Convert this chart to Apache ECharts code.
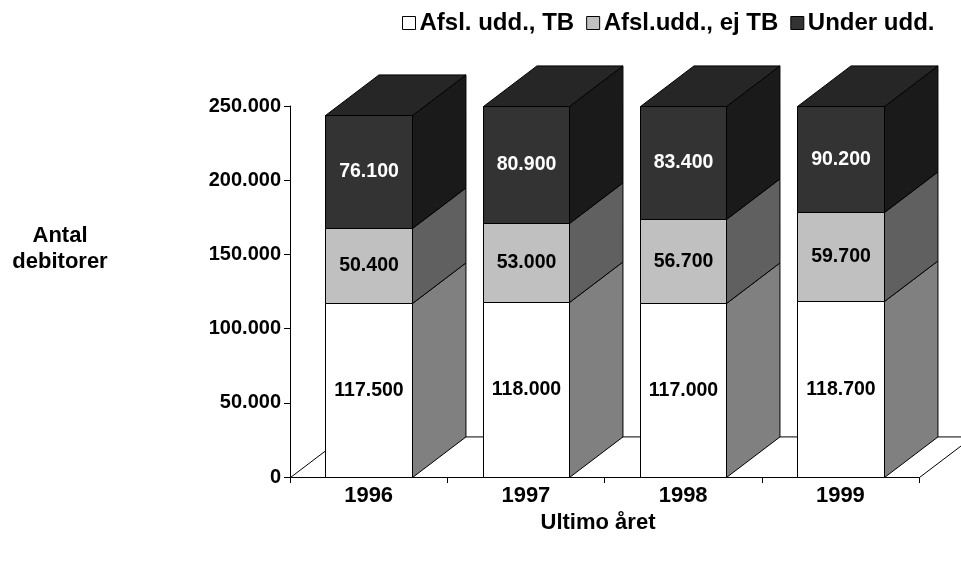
<!DOCTYPE html>
<html><head><meta charset="utf-8">
<script src="https://cdn.jsdelivr.net/npm/echarts@6/dist/echarts.min.js"></script>
<style>html,body{margin:0;padding:0;background:#fff}#c{width:961px;height:563px}</style>
</head><body><div id="c"></div>
<script>
// ---- data ----
const categories = ['1996', '1997', '1998', '1999'];
const seriesNames = ['Afsl. udd., TB', 'Afsl.udd., ej TB', 'Under udd.'];
const tbValues = [117500, 118000, 117000, 118700];
const ejTbValues = [50400, 53000, 56700, 59700];
const underValues = [76100, 80900, 83400, 90200];
const yTicks = [0, 50000, 100000, 150000, 200000, 250000];
const yTickLabels = ['0', '50.000', '100.000', '150.000', '200.000', '250.000'];
const yAxisTitle = 'Antal\ndebitorer';
const xAxisTitle = 'Ultimo året';

// ---- styling ----
const FONT = '"Liberation Sans", Arial, Helvetica, sans-serif';
const FRONT = ['#ffffff', '#c0c0c0', '#333333'];
const SIDE = ['#808080', '#606060', '#1a1a1a'];
const TOP = '#262626';
const LABEL_COLOR = ['#000', '#000', '#fff'];
const BAR_RATIO = 0.55, DEPTH_X = 0.34, DEPTH_Y = 0.258;
const Y_MIN = yTicks[0], Y_MAX = yTicks[yTicks.length - 1], Y_STEP = yTicks[1] - yTicks[0];

const allValues = [tbValues, ejTbValues, underValues];
function fmt(v) { return String(v).replace(/\B(?=(\d{3})+(?!\d))/g, '.'); }

function buildData(k) {
  return categories.map((c, i) => {
    let base = 0;
    for (let j = 0; j < k; j++) base += allValues[j][i];
    return [i, base, base + allValues[k][i], allValues[k][i]];
  });
}

function makeRender(k) {
  const isTop = k === allValues.length - 1;
  return function (params, api) {
    const i = api.value(0);
    const b = Math.min(api.value(1), Y_MAX);
    const t = Math.min(api.value(2), Y_MAX);
    const val = api.value(3);
    const catW = api.size([1, 0])[0];
    const w = catW * BAR_RATIO, dx = catW * DEPTH_X, dy = -catW * DEPTH_Y;
    const pb = api.coord([i, b]), pt = api.coord([i, t]);
    const xl = Math.round(pb[0] - w / 2) + 0.5, xr = Math.round(pb[0] + w / 2) + 0.5;
    const yb = Math.round(pb[1]) + 0.5, yt = Math.round(pt[1]) + 0.5;
    const line = { stroke: '#000', lineWidth: 1 };
    const children = [
      { type: 'polygon', shape: { points: [[xr, yb], [xr + dx, yb + dy], [xr + dx, yt + dy], [xr, yt]] },
        style: Object.assign({ fill: SIDE[k] }, line) },
      { type: 'rect', shape: { x: xl, y: yt, width: xr - xl, height: yb - yt },
        style: Object.assign({ fill: FRONT[k] }, line) }
    ];
    if (isTop) {
      children.push({ type: 'polygon', shape: { points: [[xl, yt], [xr, yt], [xr + dx, yt + dy], [xl + dx, yt + dy]] },
        style: Object.assign({ fill: TOP }, line) });
    }
    children.push({ type: 'text', style: {
      text: fmt(val), x: (xl + xr) / 2, y: (yt + yb) / 2, fill: LABEL_COLOR[k],
      fontSize: 19.5, fontWeight: 'bold', fontFamily: FONT, align: 'center', verticalAlign: 'middle' } });
    return { type: 'group', children };
  };
}

function renderFloor(params, api) {
  const cs = params.coordSys;
  const catW = cs.width / categories.length;
  const dx = catW * DEPTH_X, dy = -catW * DEPTH_Y;
  const x0 = cs.x + 0.5, x1 = cs.x + cs.width + 0.5, y0 = Math.round(cs.y + cs.height) + 0.5;
  return { type: 'polygon', shape: { points: [[x0, y0], [x1, y0], [x1 + dx, y0 + dy], [x0 + dx, y0 + dy]] },
    style: { fill: '#fff', stroke: '#000', lineWidth: 1 } };
}

const series = [{
  type: 'custom', name: 'floor', silent: true, clip: false, z: 1,
  renderItem: renderFloor, data: [[0, 0]], encode: { x: 0, y: 1 }
}];
seriesNames.forEach((n, k) => {
  series.push({
    type: 'custom', name: n, silent: true, clip: false, z: 2 + k,
    itemStyle: { color: FRONT[k], borderColor: '#000', borderWidth: 1 },
    renderItem: makeRender(k), data: buildData(k), encode: { x: 0, y: [1, 2] }
  });
});

const chart = echarts.init(document.getElementById('c'), null, { renderer: 'canvas' });
chart.setOption({
  animation: false,
  backgroundColor: '#fff',
  textStyle: { fontFamily: FONT },
  legend: {
    left: 397, top: 6, itemWidth: 13, itemHeight: 13, itemGap: 12, selectedMode: false,
    textStyle: { fontSize: 24, fontWeight: 'bold', color: '#000', fontFamily: FONT, padding: [0, 0, 0, -1] },
    data: seriesNames.map((n, k) => ({ name: n, icon: 'rect',
      itemStyle: { color: FRONT[k], borderColor: '#000', borderWidth: 1 } }))
  },
  grid: { left: 290, right: 42, top: 106, bottom: 86, containLabel: false },
  xAxis: {
    type: 'category', data: categories, boundaryGap: true,
    axisLine: { show: true, lineStyle: { color: '#000', width: 1 } },
    axisTick: { show: true, alignWithLabel: false, length: 6, lineStyle: { color: '#000' } },
    axisLabel: { margin: 8, fontSize: 22, fontWeight: 'bold', color: '#000', fontFamily: FONT },
    splitLine: { show: false }
  },
  yAxis: {
    type: 'value', min: Y_MIN, max: Y_MAX, interval: Y_STEP,
    axisLine: { show: true, lineStyle: { color: '#000', width: 1 } },
    axisTick: { show: true, length: 6, lineStyle: { color: '#000' } },
    axisLabel: { margin: 9, fontSize: 20, fontWeight: 'bold', color: '#000', fontFamily: FONT,
      formatter: v => yTickLabels[yTicks.indexOf(v)] },
    splitLine: { show: false }
  },
  graphic: [
    { type: 'text', x: 60, y: 249, style: { text: yAxisTitle, align: 'center', verticalAlign: 'middle',
      fontSize: 22, fontWeight: 'bold', lineHeight: 26, fill: '#000', fontFamily: FONT } },
    { type: 'text', x: 598, y: 523, style: { text: xAxisTitle, align: 'center', verticalAlign: 'middle',
      fontSize: 22, fontWeight: 'bold', fill: '#000', fontFamily: FONT } }
  ],
  series
});
</script>
</body></html>
